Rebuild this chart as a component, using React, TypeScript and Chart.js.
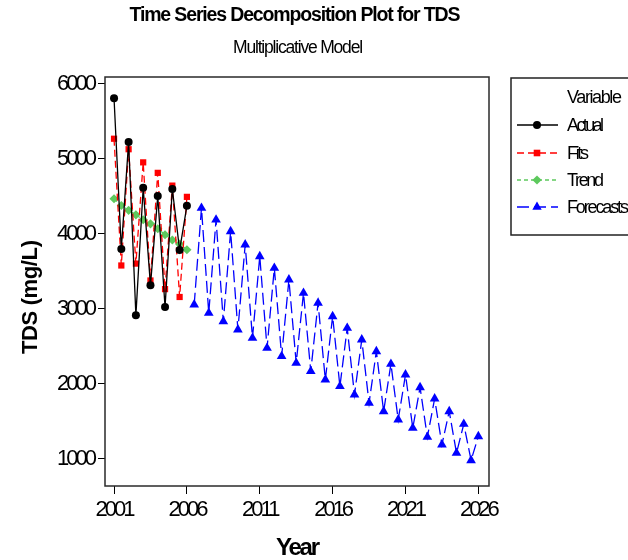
import React, { useEffect, useRef } from 'react';
import { Chart, registerables } from 'chart.js';

Chart.register(...registerables);

// ---- data ----
const actualYears = [2001, 2001.5, 2002, 2002.5, 2003, 2003.5, 2004, 2004.5, 2005, 2005.5, 2006];
const actualValues = [5810, 3800, 5225, 2915, 4615, 3315, 4505, 3025, 4600, 3785, 4375];
const fitsValues = [5270, 3580, 5130, 3605, 4955, 3380, 4815, 3265, 4645, 3160, 4495];
const trendValues = [4470, 4380, 4315, 4255, 4190, 4135, 4070, 3990, 3920, 3865, 3790];

const forecastYears = [
  2006.5, 2007, 2007.5, 2008, 2008.5, 2009, 2009.5, 2010, 2010.5, 2011,
  2011.5, 2012, 2012.5, 2013, 2013.5, 2014, 2014.5, 2015, 2015.5, 2016,
  2016.5, 2017, 2017.5, 2018, 2018.5, 2019, 2019.5, 2020, 2020.5, 2021,
  2021.5, 2022, 2022.5, 2023, 2023.5, 2024, 2024.5, 2025, 2025.5, 2026,
];
const forecastValues = [
  3057, 4346, 2946, 4190, 2835, 4035, 2724, 3857, 2613, 3702,
  2480, 3546, 2369, 3391, 2280, 3213, 2169, 3080, 2057, 2902,
  1969, 2746, 1857, 2591, 1746, 2435, 1635, 2266, 1524, 2124,
  1413, 1955, 1293, 1804, 1191, 1635, 1080, 1466, 982, 1302,
];

const xTicks = [2001, 2006, 2011, 2016, 2021, 2026];
const yTicks = [1000, 2000, 3000, 4000, 5000, 6000];

const seriesNames = ['Actual', 'Fits', 'Trend', 'Forecasts'];
const seriesColors = ['#000000', '#FF0000', '#5DC95D', '#0000FF'];
const seriesDashes: number[][] = [[], [7, 4], [4, 3], [12, 5]];
const seriesMarkers = ['circle', 'rect', 'rectRot', 'triangle'];
const seriesRadius = [4, 4.4, 4.6, 5.6];

const titleText = 'Time Series Decomposition Plot for TDS';
const subtitleText = 'Multiplicative Model';
const xTitleText = 'Year';
const yTitleText = 'TDS (mg/L)';
const legendTitleText = 'Variable';

const SANS = '"Liberation Sans", Arial, sans-serif';

function fitText(
  ctx: CanvasRenderingContext2D,
  text: string,
  font: string,
  targetW: number,
  x: number,
  y: number,
  align: 'center' | 'left',
  rotate = false
) {
  ctx.save();
  ctx.font = font;
  (ctx as any).letterSpacing = '0px';
  const w0 = ctx.measureText(text).width;
  const s = (targetW - w0) / Math.max(1, text.length - 1);
  (ctx as any).letterSpacing = s.toFixed(2) + 'px';
  ctx.fillStyle = '#000';
  ctx.textAlign = 'left';
  ctx.textBaseline = 'alphabetic';
  if (rotate) {
    ctx.translate(x, y);
    ctx.rotate(-Math.PI / 2);
    ctx.fillText(text, -targetW / 2, 0);
  } else {
    const left = align === 'center' ? x - targetW / 2 : x;
    ctx.fillText(text, left, y);
  }
  ctx.restore();
}

function drawMarker(ctx: CanvasRenderingContext2D, kind: string, x: number, y: number, color: string) {
  ctx.save();
  ctx.fillStyle = color;
  ctx.strokeStyle = color;
  ctx.setLineDash([]);
  ctx.beginPath();
  if (kind === 'circle') {
    ctx.arc(x, y, 4, 0, Math.PI * 2);
  } else if (kind === 'rect') {
    ctx.rect(x - 3.3, y - 3.3, 6.6, 6.6);
  } else if (kind === 'rectRot') {
    const r = 4.6;
    ctx.moveTo(x - r, y);
    ctx.lineTo(x, y - r);
    ctx.lineTo(x + r, y);
    ctx.lineTo(x, y + r);
    ctx.closePath();
  } else {
    const r = 5.4;
    ctx.moveTo(x, y - r);
    ctx.lineTo(x + 0.866 * r, y + r / 2);
    ctx.lineTo(x - 0.866 * r, y + r / 2);
    ctx.closePath();
  }
  ctx.fill();
  ctx.restore();
}

const decorPlugin = {
  id: 'decor',
  beforeDraw(chart: any) {
    const ctx = chart.ctx as CanvasRenderingContext2D;
    ctx.save();
    ctx.fillStyle = '#fff';
    ctx.fillRect(0, 0, chart.width, chart.height);
    ctx.restore();
    (ctx as any).letterSpacing = '-3px';
  },
  afterDraw(chart: any) {
    const ctx = chart.ctx as CanvasRenderingContext2D;
    const a = chart.chartArea;
    // frame
    ctx.save();
    (ctx as any).letterSpacing = '0px';
    ctx.strokeStyle = '#2a2a2a';
    ctx.lineWidth = 1.5;
    ctx.setLineDash([]);
    ctx.strokeRect(a.left, a.top, a.right - a.left, a.bottom - a.top);
    ctx.restore();

    // titles
    fitText(ctx, titleText, `bold 19.5px ${SANS}`, 331, 295, 21, 'center');
    fitText(ctx, subtitleText, `17.5px ${SANS}`, 130, 298, 53, 'center');
    fitText(ctx, xTitleText, `bold 24px ${SANS}`, 44, 298, 555, 'center');
    fitText(ctx, yTitleText, `bold 22px ${SANS}`, 114, 37, 297, 'center', true);

    // legend box
    ctx.save();
    ctx.strokeStyle = '#222';
    ctx.lineWidth = 1.5;
    ctx.strokeRect(511, 78, 140, 157);
    ctx.restore();
    fitText(ctx, legendTitleText, `18px ${SANS}`, 55, 567, 103, 'left');
    const rowY = [125, 153, 180, 207];
    const labelW = [37, 22, 37, 62];
    for (let i = 0; i < seriesNames.length; i++) {
      const y = rowY[i];
      ctx.save();
      ctx.strokeStyle = seriesColors[i];
      ctx.lineWidth = 1.3;
      ctx.setLineDash(seriesDashes[i]);
      ctx.beginPath();
      ctx.moveTo(517, y);
      ctx.lineTo(558, y);
      ctx.stroke();
      ctx.restore();
      drawMarker(ctx, seriesMarkers[i], 537, y, seriesColors[i]);
      fitText(ctx, seriesNames[i], `18px ${SANS}`, labelW[i], 567, y + 6, 'left');
    }
  },
};

export default function App() {
  const ref = useRef<HTMLCanvasElement>(null);
  useEffect(() => {
    const observed = [actualValues, fitsValues, trendValues];
    const datasets: any[] = seriesNames.map((name, i) => {
      const xs = i < 3 ? actualYears : forecastYears;
      const ys = i < 3 ? observed[i] : forecastValues;
      return {
        label: name,
        data: xs.map((x, k) => ({ x, y: ys[k] })),
        borderColor: seriesColors[i],
        backgroundColor: seriesColors[i],
        borderWidth: 1.3,
        borderDash: seriesDashes[i],
        pointStyle: seriesMarkers[i],
        pointRadius: seriesRadius[i],
        pointBorderWidth: 0,
        pointBackgroundColor: seriesColors[i],
        tension: 0,
        fill: false,
      };
    });
    const tickFont = { family: SANS, size: 22 };
    const chart = new Chart(ref.current!, {
      type: 'line',
      data: { datasets },
      plugins: [decorPlugin],
      options: {
        animation: false,
        responsive: false,
        devicePixelRatio: 1,
        layout: { padding: { left: 0, top: 77, right: 139, bottom: 0 } },
        plugins: {
          legend: { display: false },
          title: { display: false },
          tooltip: { enabled: false },
        },
        scales: {
          x: {
            type: 'linear',
            min: 2000.38,
            max: 2026.73,
            afterBuildTicks: (s: any) => {
              s.ticks = xTicks.map((v) => ({ value: v }));
            },
            afterFit: (s: any) => {
              s.height = 74;
            },
            grid: { display: true, drawOnChartArea: false, drawTicks: true, tickLength: 8, color: '#000', lineWidth: 1 },
            border: { display: false },
            ticks: {
              color: '#000',
              font: tickFont,
              padding: 3,
              maxRotation: 0,
              autoSkip: false,
              callback: (v: any) => String(v),
            },
          },
          y: {
            type: 'linear',
            min: 640,
            max: 6093,
            afterBuildTicks: (s: any) => {
              s.ticks = yTicks.map((v) => ({ value: v }));
            },
            afterFit: (s: any) => {
              s.width = 105;
            },
            grid: { display: true, drawOnChartArea: false, drawTicks: true, tickLength: 7, color: '#000', lineWidth: 1 },
            border: { display: false },
            ticks: {
              color: '#000',
              font: tickFont,
              padding: 4,
              autoSkip: false,
              callback: (v: any) => String(v),
            },
          },
        },
      } as any,
    });
    return () => chart.destroy();
  }, []);
  return (
    <div style={{ position: 'absolute', left: 0, top: 0, width: 628, height: 560, background: '#fff' }}>
      <canvas ref={ref} width={628} height={560} style={{ display: 'block', width: 628, height: 560 }} />
    </div>
  );
}
